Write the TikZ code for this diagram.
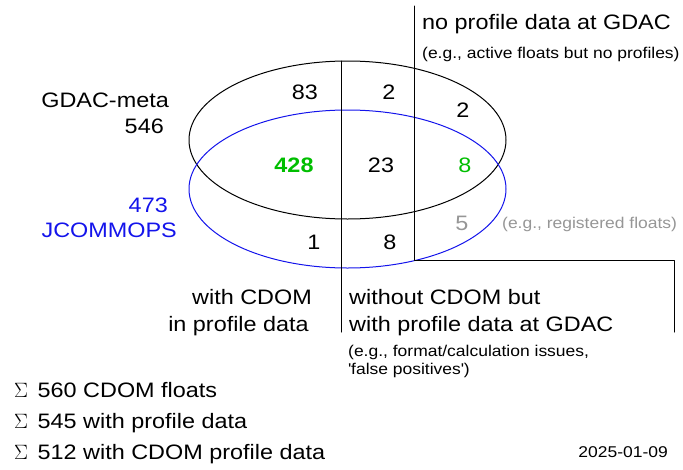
\documentclass[tikz,border=0pt]{standalone}
\usepackage{fontspec}
\setmainfont[FakeStretch=1.12]{Liberation Sans}
\usetikzlibrary{arrows}
\definecolor{cdomgreen}{RGB}{0,190,0}
\definecolor{jcblue}{RGB}{20,20,235}
\definecolor{notegray}{RGB}{150,150,150}

\begin{document}
\begin{tikzpicture}[line cap=round,line join=round,x=1pt,y=-1pt,
    big/.style={font=\fontsize{20.9}{27}\selectfont,inner sep=0pt},
    small/.style={font=\fontsize{15.6}{18}\selectfont,inner sep=0pt}]
        \useasboundingbox (0,0) rectangle (683,469);
        % the two sets
        \draw[line width=1pt,color=black] (347.5,140) ellipse [x radius=158.5,y radius=79];
        \draw[line width=1pt,color=jcblue] (347.5,189) ellipse [x radius=158.5,y radius=79];
        % dividers
        \coordinate (cdomtop) at (341,61);
        \coordinate (cdombot) at (341,332);
        \coordinate (gdactop) at (414,6);
        \coordinate (gdaccorner) at (414,260);
        \coordinate (notecorner) at (674,260);
        \coordinate (notebot) at (674,332);
        \draw[line width=1pt] (cdomtop) -- (cdombot);
        \draw[line width=1pt] (gdactop) -- (gdaccorner) -- (notecorner) -- (notebot);
        % headings
        \node[big,anchor=base west] (noprof) at (422,29) {no profile data at GDAC};
        \node[small,anchor=base west] (noprofeg) at (422,58) {(e.g., active floats but no profiles)};
        \node[big,anchor=base east] (gdacname) at (169,107) {GDAC-meta};
        \node[big,anchor=base east] (gdacnum) at (164,133) {546};
        \node[big,anchor=base east,color=jcblue] (jcnum) at (168,212) {473};
        \node[big,anchor=base east,color=jcblue] (jcname) at (177,237) {JCOMMOPS};
        % counts
        \node[big,anchor=base] (n83) at (305,99) {83};
        \node[big,anchor=base] (n2a) at (389,99) {2};
        \node[big,anchor=base] (n2b) at (463,117) {2};
        \node[big,anchor=base,color=cdomgreen,font=\fontsize{20.9}{27}\selectfont\bfseries] (n428) at (294,172) {428};
        \node[big,anchor=base] (n23) at (381,172) {23};
        \node[big,anchor=base,color=cdomgreen] (n8a) at (465,172) {8};
        \node[big,anchor=base,color=notegray] (n5) at (462,230) {5};
        \node[small,anchor=base west,color=notegray] (regeg) at (502,228) {(e.g., registered floats)};
        \node[big,anchor=base] (n1) at (314,249) {1};
        \node[big,anchor=base] (n8b) at (390,249) {8};
        % bottom labels
        \node[big,anchor=base east] (withc) at (312,304) {with CDOM};
        \node[big,anchor=base east] (withp) at (309,331) {in profile data};
        \node[big,anchor=base west] (woc) at (349,304) {without CDOM but};
        \node[big,anchor=base west] (wop) at (349,331) {with profile data at GDAC};
        \node[small,anchor=base west] (woeg) at (348,356) {(e.g., format/calculation issues,};
        \node[small,anchor=base west] (woeg2) at (348,374) {\textquotesingle false positives\textquotesingle)};
        % sums
        \node[big,anchor=base west] (sum1) at (14,397) {$\Sigma$\hspace{0.15em} 560 CDOM floats};
        \node[big,anchor=base west] (sum2) at (14,428) {$\Sigma$\hspace{0.15em} 545 with profile data};
        \node[big,anchor=base west] (sum3) at (14,459) {$\Sigma$\hspace{0.15em} 512 with CDOM profile data};
        \node[small,anchor=base east] (date) at (668,457) {2025-01-09};
      \end{tikzpicture}
\end{document}
